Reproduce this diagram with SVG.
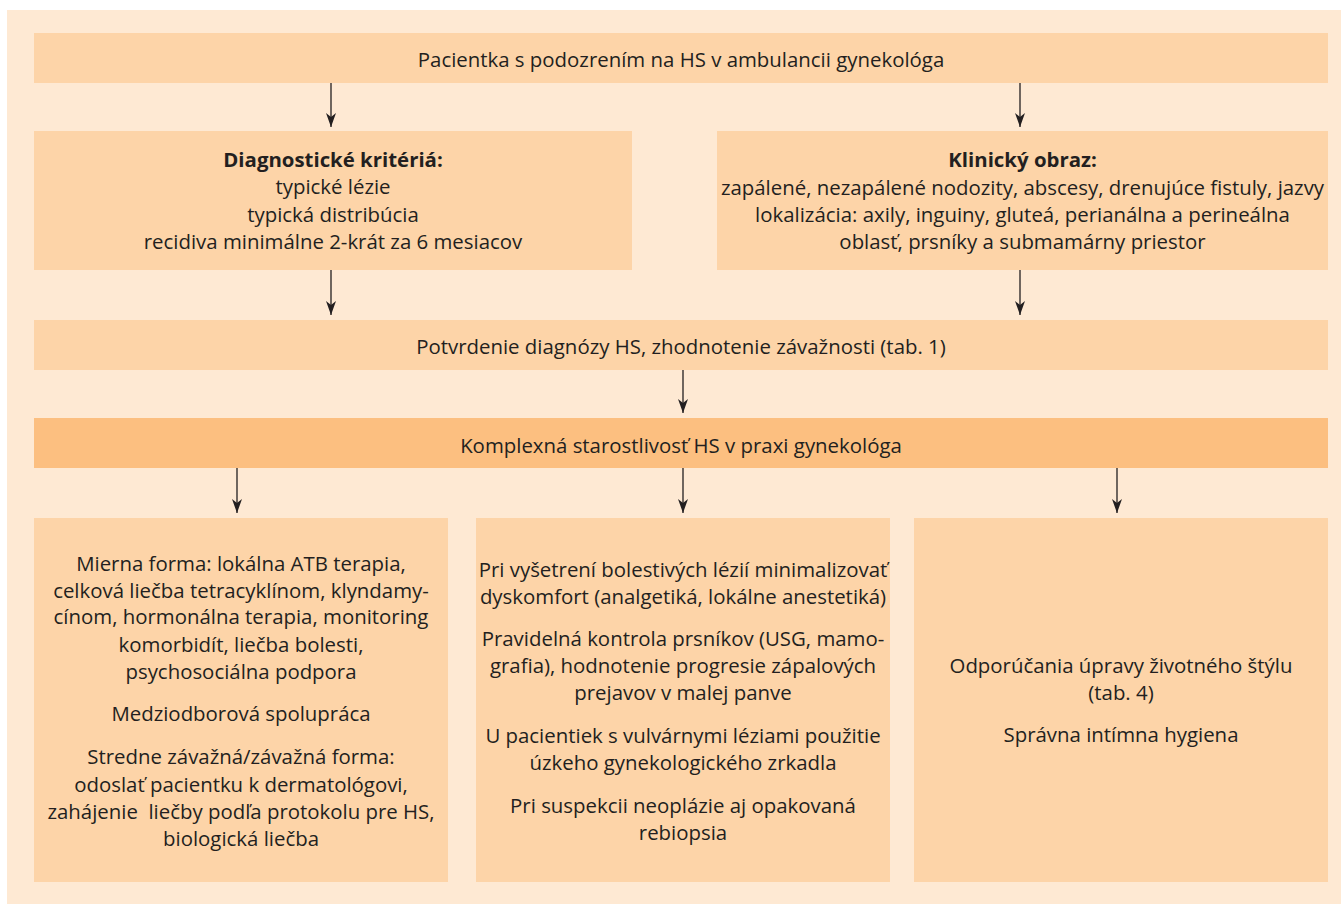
<svg xmlns="http://www.w3.org/2000/svg" width="1341" height="905" viewBox="0 0 1341 905">
<defs>
<style>
.bg{fill:#FEE9D3}
.box{fill:#FDD4A8}
.hi{fill:#FCBF80}
text{font-family:"Open Sans","Noto Sans","Liberation Sans",sans-serif;font-size:20.4px;fill:#231F20;text-anchor:middle}
.b{font-weight:700}
.conn line{stroke:#231F20;stroke-width:1.3;fill:none}
</style>
<marker id="ah" viewBox="0 0 14 10" refX="14" refY="5" markerWidth="14" markerHeight="10" markerUnits="userSpaceOnUse" orient="auto">
<path d="M0,0 L14,5 L0,10 L4,5 Z" fill="#231F20"/>
</marker>
</defs>
<rect class="bg" x="7" y="10" width="1334" height="894"/>

<g id="start">
<rect class="box" x="34" y="33" width="1294" height="50"/>
<text x="681" y="66.5">Pacientka s podozrením na HS v ambulancii gynekológa</text>
</g>

<g id="diag">
<rect class="box" x="34" y="131" width="598" height="139"/>
<text x="333" y="167" class="b">Diagnostické kritériá:</text>
<text x="333" y="194">typické lézie</text>
<text x="333" y="221.5">typická distribúcia</text>
<text x="333" y="248.5">recidiva minimálne 2-krát za 6 mesiacov</text>
</g>

<g id="klin">
<rect class="box" x="717" y="131" width="611" height="139"/>
<text x="1022.5" y="167" class="b">Klinický obraz:</text>
<text x="1022.5" y="194.5">zapálené, nezapálené nodozity, abscesy, drenujúce fistuly, jazvy</text>
<text x="1022.5" y="221.5">lokalizácia: axily, inguiny, gluteá, perianálna a perineálna</text>
<text x="1022.5" y="248.5">oblasť, prsníky a submamárny priestor</text>
</g>

<g id="potvrdenie">
<rect class="box" x="34" y="320" width="1294" height="50"/>
<text x="681" y="354">Potvrdenie diagnózy HS, zhodnotenie závažnosti (tab. 1)</text>
</g>

<g id="komplex">
<rect class="hi" x="34" y="418" width="1294" height="50"/>
<text x="681" y="452.5">Komplexná starostlivosť HS v praxi gynekológa</text>
</g>

<g id="liecba">
<rect class="box" x="34" y="518" width="414" height="364"/>
<text x="241" y="570.5">Mierna forma: lokálna ATB terapia,</text>
<text x="241" y="597.5">celková liečba tetracyklínom, klyndamy-</text>
<text x="241" y="624">cínom, hormonálna terapia, monitoring</text>
<text x="241" y="651.5">komorbidít, liečba bolesti,</text>
<text x="241" y="679">psychosociálna podpora</text>
<text x="241" y="720.5">Medziodborová spolupráca</text>
<text x="241" y="763.5">Stredne závažná/závažná forma:</text>
<text x="241" y="791.5">odoslať pacientku k dermatológovi,</text>
<text x="241" y="818.5" xml:space="preserve">zahájenie  liečby podľa protokolu pre HS,</text>
<text x="241" y="845.5">biologická liečba</text>
</g>

<g id="vysetrenie">
<rect class="box" x="476" y="518" width="414" height="364"/>
<text x="683" y="576.5">Pri vyšetrení bolestivých lézií minimalizovať</text>
<text x="683" y="603.5">dyskomfort (analgetiká, lokálne anestetiká)</text>
<text x="683" y="645.5">Pravidelná kontrola prsníkov (USG, mamo-</text>
<text x="683" y="673">grafia), hodnotenie progresie zápalových</text>
<text x="683" y="700">prejavov v malej panve</text>
<text x="683" y="743">U pacientiek s vulvárnymi léziami použitie</text>
<text x="683" y="770">úzkeho gynekologického zrkadla</text>
<text x="683" y="813">Pri suspekcii neoplázie aj opakovaná</text>
<text x="683" y="840">rebiopsia</text>
</g>

<g id="styl">
<rect class="box" x="914" y="518" width="414" height="364"/>
<text x="1121" y="673">Odporúčania úpravy životného štýlu</text>
<text x="1121" y="700">(tab. 4)</text>
<text x="1121" y="741.5">Správna intímna hygiena</text>
</g>

<g id="connectors" class="conn">
<line x1="331" y1="83" x2="331" y2="127" marker-end="url(#ah)"/>
<line x1="1020" y1="83" x2="1020" y2="127" marker-end="url(#ah)"/>
<line x1="331" y1="270" x2="331" y2="315" marker-end="url(#ah)"/>
<line x1="1020" y1="270" x2="1020" y2="315" marker-end="url(#ah)"/>
<line x1="683" y1="370" x2="683" y2="413" marker-end="url(#ah)"/>
<line x1="237" y1="468" x2="237" y2="513" marker-end="url(#ah)"/>
<line x1="683" y1="468" x2="683" y2="513" marker-end="url(#ah)"/>
<line x1="1117" y1="468" x2="1117" y2="513" marker-end="url(#ah)"/>
</g>
</svg>
